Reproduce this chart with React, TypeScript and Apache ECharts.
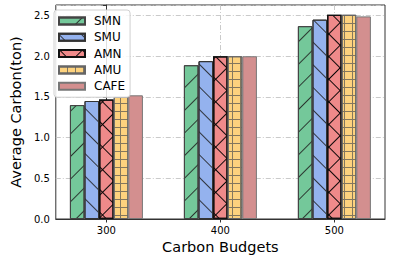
import React, { useEffect, useRef } from 'react';
import * as echarts from 'echarts';

const categories = ['300', '400', '500'];
const seriesNames = ['SMN', 'SMU', 'AMN', 'AMU', 'CAFE'];
const smn = [1.40, 1.89, 2.37];
const smu = [1.45, 1.94, 2.45];
const amn = [1.47, 2.00, 2.51];
const amu = [1.50, 2.00, 2.51];
const cafe = [1.52, 2.00, 2.49];
const yTicks = [0, 0.5, 1.0, 1.5, 2.0, 2.5];

const FONT = 'DejaVu Sans';

function gridRows(s: number) {
  const rows: number[][] = [[s, 0]];
  for (let i = 1; i < s; i++) rows.push([1, s - 1]);
  return rows;
}

const hatchColor = 'rgba(30,30,30,0.85)';
const decals: any[] = [
  { symbol: 'rect', symbolSize: 1, color: hatchColor, dashArrayX: [1, 0], dashArrayY: [1, 15], rotation: -Math.PI / 4 },
  { symbol: 'rect', symbolSize: 1, color: hatchColor, dashArrayX: [1, 0], dashArrayY: [1, 15], rotation: Math.PI / 4 },
  { symbol: 'rect', symbolSize: 1, color: 'rgba(0,0,0,0.95)', dashArrayX: gridRows(16), dashArrayY: [1, 0], rotation: Math.PI / 4 },
  { symbol: 'rect', symbolSize: 1, color: 'rgba(80,80,80,0.7)', dashArrayX: gridRows(8), dashArrayY: [1, 0], rotation: 0 },
  'none',
];
const colors = ['#74C89A', '#94B2EE', '#EF8A8A', '#FDD27E', '#D38F8F'];
const borders = ['#444', '#333', '#111', '#666', '#777'];
const values = [smn, smu, amn, amu, cafe];

const gridLine = { color: '#c4c4c4', width: 0.9, type: [5, 2, 1, 2] as any };

export default function App() {
  const ref = useRef<HTMLDivElement>(null);
  useEffect(() => {
    if (!ref.current) return;
    const chart = echarts.init(ref.current, null, { renderer: 'svg' });
    const isTick = (v: number) => yTicks.some((t) => Math.abs(t - v) < 1e-6);
    chart.setOption({
      animation: false,
      backgroundColor: '#fff',
      textStyle: { fontFamily: FONT },
      grid: { left: 48, right: 9, top: 5, bottom: 41, show: true, borderColor: '#333', borderWidth: 1, backgroundColor: 'transparent' },
      legend: {
        orient: 'vertical',
        left: 54,
        top: 10,
        icon: 'rect',
        itemWidth: 26,
        itemHeight: 7,
        itemGap: 2.3,
        padding: [4, 5, 4, 4],
        backgroundColor: 'rgba(255,255,255,0.85)',
        borderColor: '#d0d0d0',
        borderWidth: 1,
        borderRadius: 3,
        data: seriesNames,
        textStyle: { fontFamily: FONT, fontSize: 12, color: '#000', lineHeight: 14, padding: [0, 0, 0, 4] },
      },
      xAxis: {
        type: 'value',
        min: -0.444,
        max: 2.444,
        axisLine: { show: true, lineStyle: { color: '#333', width: 1 } },
        axisTick: { show: true, customValues: [0, 1, 2], length: 3.5, lineStyle: { color: '#333' } },
        axisLabel: {
          customValues: [0, 1, 2],
          formatter: (v: number) => categories[Math.round(v)] ?? '',
          fontFamily: FONT,
          fontSize: 10,
          color: '#000',
          margin: 6,
        },
        splitLine: { show: true, lineStyle: gridLine },
        name: 'Carbon Budgets',
        nameLocation: 'middle',
        nameGap: 15,
        nameTextStyle: { fontFamily: FONT, fontSize: 14.5, color: '#000' },
      },
      yAxis: {
        type: 'value',
        min: 0,
        max: 2.63,
        interval: 0.5,
        axisLine: { show: true, lineStyle: { color: '#333', width: 1 } },
        axisTick: { show: true, length: 3.5, lineStyle: { color: '#333' } },
        axisLabel: {
          formatter: (v: number) => (isTick(v) ? v.toFixed(1) : ''),
          fontFamily: FONT,
          fontSize: 10,
          color: '#000',
          margin: 6,
        },
        splitLine: { show: true, lineStyle: gridLine },
        name: 'Average Carbon(ton)',
        nameLocation: 'middle',
        nameGap: 26,
        nameTextStyle: { fontFamily: FONT, fontSize: 14.5, color: '#000' },
      },
      series: seriesNames.map((name, k) => ({
        name,
        type: 'bar',
        barWidth: 14.6,
        barGap: '0%',
        data: values[k].map((v, i) => [i, v]),
        itemStyle: {
          color: colors[k],
          borderColor: borders[k],
          borderWidth: k === 2 ? 1.3 : 1,
          decal: decals[k] === 'none' ? undefined : decals[k],
        },
        emphasis: { disabled: true },
      })),
    });
    return () => chart.dispose();
  }, []);
  return <div ref={ref} style={{ position: 'fixed', left: 0, top: 0, width: 394, height: 260 }} />;
}
